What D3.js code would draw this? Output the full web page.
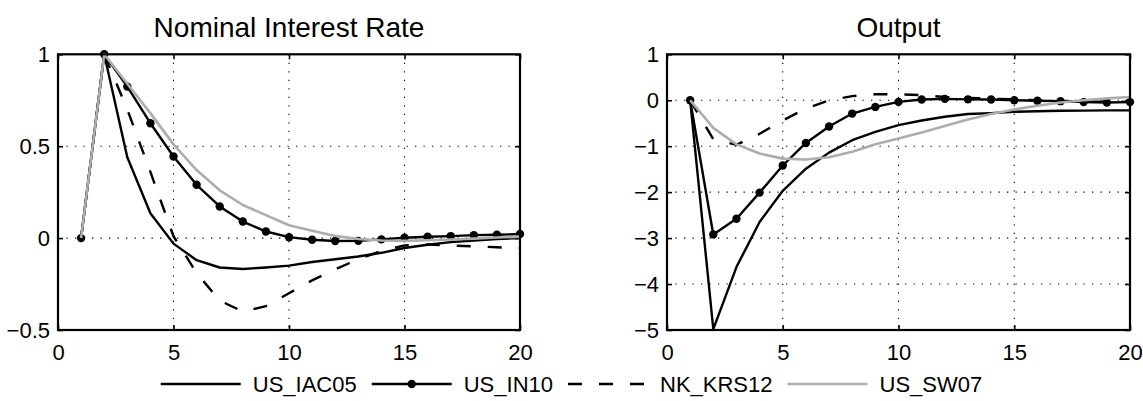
<!DOCTYPE html>
<html><head><meta charset="utf-8">
<script src="https://cdn.jsdelivr.net/npm/d3@7"></script>
<style>
body{margin:0;background:#fff}
svg text{font-family:"Liberation Sans",Arial,Helvetica,sans-serif;fill:#000}
</style>
</head><body>
<svg id="chart" width="1143" height="401"></svg>
<script>
// ---------- data ----------
const periods = [1,2,3,4,5,6,7,8,9,10,11,12,13,14,15,16,17,18,19,20];
const xTicks = [0,5,10,15,20];
const rateTicks = [-0.5,0,0.5,1];
const outputTicks = [-5,-4,-3,-2,-1,0,1];
const panelTitles = ["Nominal Interest Rate","Output"];
const seriesNames = ["US_IAC05","US_IN10","NK_KRS12","US_SW07"];

const rateIAC05 = [0,1,0.44,0.135,-0.03,-0.12,-0.16,-0.168,-0.16,-0.15,-0.13,-0.115,-0.1,-0.08,-0.054,-0.036,-0.022,-0.013,-0.005,0];
const rateIN10  = [0,1,0.824,0.625,0.444,0.29,0.172,0.09,0.036,0.005,-0.009,-0.016,-0.015,-0.007,0.002,0.007,0.011,0.016,0.018,0.022];
const rateKRS12 = [0,1,0.70,0.36,0.01,-0.19,-0.34,-0.40,-0.37,-0.30,-0.23,-0.17,-0.115,-0.07,-0.04,-0.035,-0.04,-0.045,-0.05,-0.055];
const rateSW07  = [0,1,0.84,0.68,0.51,0.37,0.26,0.18,0.125,0.07,0.04,0.012,-0.005,-0.013,-0.015,-0.012,-0.008,-0.003,0.003,0.008];

const outIAC05 = [0,-4.98,-3.63,-2.65,-1.97,-1.49,-1.14,-0.87,-0.69,-0.54,-0.44,-0.36,-0.30,-0.28,-0.25,-0.24,-0.23,-0.225,-0.22,-0.22];
const outIN10  = [0,-2.92,-2.58,-2.01,-1.42,-0.93,-0.57,-0.29,-0.145,-0.036,0.015,0.03,0.02,0.015,0.0,-0.01,-0.02,-0.04,-0.05,-0.04];
const outKRS12 = [0,-0.85,-0.97,-0.73,-0.44,-0.18,0.0,0.09,0.13,0.13,0.11,0.07,0.05,0.035,0.02,0.0,-0.015,-0.025,-0.03,-0.035];
const outSW07  = [0,-0.6,-0.96,-1.16,-1.27,-1.29,-1.24,-1.12,-0.96,-0.83,-0.70,-0.56,-0.42,-0.30,-0.20,-0.12,-0.05,0.0,0.04,0.07];

// ---------- styles ----------
const styles = [
  {stroke:"#000", width:2.4, dash:null, marker:false},
  {stroke:"#000", width:2.4, dash:null, marker:true},
  {stroke:"#000", width:2.4, dash:"14,17", marker:false},
  {stroke:"#adadad", width:2.6, dash:null, marker:false}
];

const svg = d3.select("#chart");
const fmt = v => String(v).replace("-", "\u2212");

const panels = [
  {left:58, right:520, top:54.3, bottom:330, yDomain:[-0.5,1], yTicks:rateTicks, title:panelTitles[0], data:[rateIAC05,rateIN10,rateKRS12,rateSW07]},
  {left:667, right:1130, top:54.3, bottom:330, yDomain:[-5,1], yTicks:outputTicks, title:panelTitles[1], data:[outIAC05,outIN10,outKRS12,outSW07]}
];

panels.forEach(p => {
  const x = d3.scaleLinear().domain([0,20]).range([p.left,p.right]);
  const y = d3.scaleLinear().domain(p.yDomain).range([p.bottom,p.top]);
  const g = svg.append("g");

  // grid
  const grid = g.append("g").attr("stroke","#000").attr("stroke-width",1.1).attr("stroke-dasharray","1.3,7.2");
  xTicks.filter(t => t>0 && t<20).forEach(t => {
    grid.append("line").attr("x1",x(t)).attr("x2",x(t)).attr("y1",p.top).attr("y2",p.bottom);
  });
  p.yTicks.filter(t => t>p.yDomain[0] && t<p.yDomain[1]).forEach(t => {
    grid.append("line").attr("x1",p.left).attr("x2",p.right).attr("y1",y(t)).attr("y2",y(t));
  });

  // axes
  const fontSize = 22;
  const ax = [
    g.append("g").attr("transform",`translate(0,${p.bottom})`).call(d3.axisBottom(x).tickValues(xTicks).tickSize(-5).tickPadding(14).tickFormat(fmt)),
    g.append("g").attr("transform",`translate(0,${p.top})`).call(d3.axisTop(x).tickValues(xTicks).tickSize(-5).tickFormat("")),
    g.append("g").attr("transform",`translate(${p.left},0)`).call(d3.axisLeft(y).tickValues(p.yTicks).tickSize(-5).tickPadding(8).tickFormat(fmt)),
    g.append("g").attr("transform",`translate(${p.right},0)`).call(d3.axisRight(y).tickValues(p.yTicks).tickSize(-5).tickFormat(""))
  ];
  ax.forEach(a => {
    a.select(".domain").remove();
    a.selectAll("line").attr("stroke","#000").attr("stroke-width",1.6);
    a.selectAll("text").style("font-size",fontSize+"px").attr("fill","#000");
  });

  // lines
  const line = d3.line().x((d,i) => x(periods[i])).y(d => y(d));
  p.data.forEach((vals,k) => {
    const s = styles[k];
    g.append("path").datum(vals).attr("d",line).attr("fill","none")
      .attr("stroke",s.stroke).attr("stroke-width",s.width)
      .attr("stroke-dasharray",s.dash).attr("stroke-linejoin","round");
    if (s.marker) {
      g.selectAll(null).data(vals).join("circle")
        .attr("cx",(d,i) => x(periods[i])).attr("cy",d => y(d)).attr("r",4.2).attr("fill","#000");
    }
  });

  // frame
  g.append("rect").attr("x",p.left).attr("y",p.top).attr("width",p.right-p.left).attr("height",p.bottom-p.top)
    .attr("fill","none").attr("stroke","#000").attr("stroke-width",2.2);

  // title
  svg.append("text").attr("x",(p.left+p.right)/2).attr("y",37).attr("text-anchor","middle")
    .style("font-size","28px").text(p.title);
});

// legend
const legY = 384;
const lineLen = 80, gapLT = 12, gapItem = 15;
const leg = svg.append("g");
const items = seriesNames.map((name,k) => {
  const t = leg.append("text").attr("y",legY).attr("dy","0.36em").style("font-size","22px").text(name);
  return {name, k, t, w: t.node().getComputedTextLength()};
});
const total = d3.sum(items, d => lineLen + gapLT + d.w) + gapItem*(items.length-1);
let cx = 1143/2 - total/2;
items.forEach(it => {
  const s = styles[it.k];
  leg.append("line").attr("x1",cx).attr("x2",cx+lineLen).attr("y1",legY).attr("y2",legY)
    .attr("stroke",s.stroke).attr("stroke-width",s.width).attr("stroke-dasharray",s.dash);
  if (s.marker) leg.append("circle").attr("cx",cx+lineLen/2).attr("cy",legY).attr("r",4.2).attr("fill","#000");
  it.t.attr("x",cx+lineLen+gapLT);
  cx += lineLen + gapLT + it.w + gapItem;
});
</script>
</body></html>
